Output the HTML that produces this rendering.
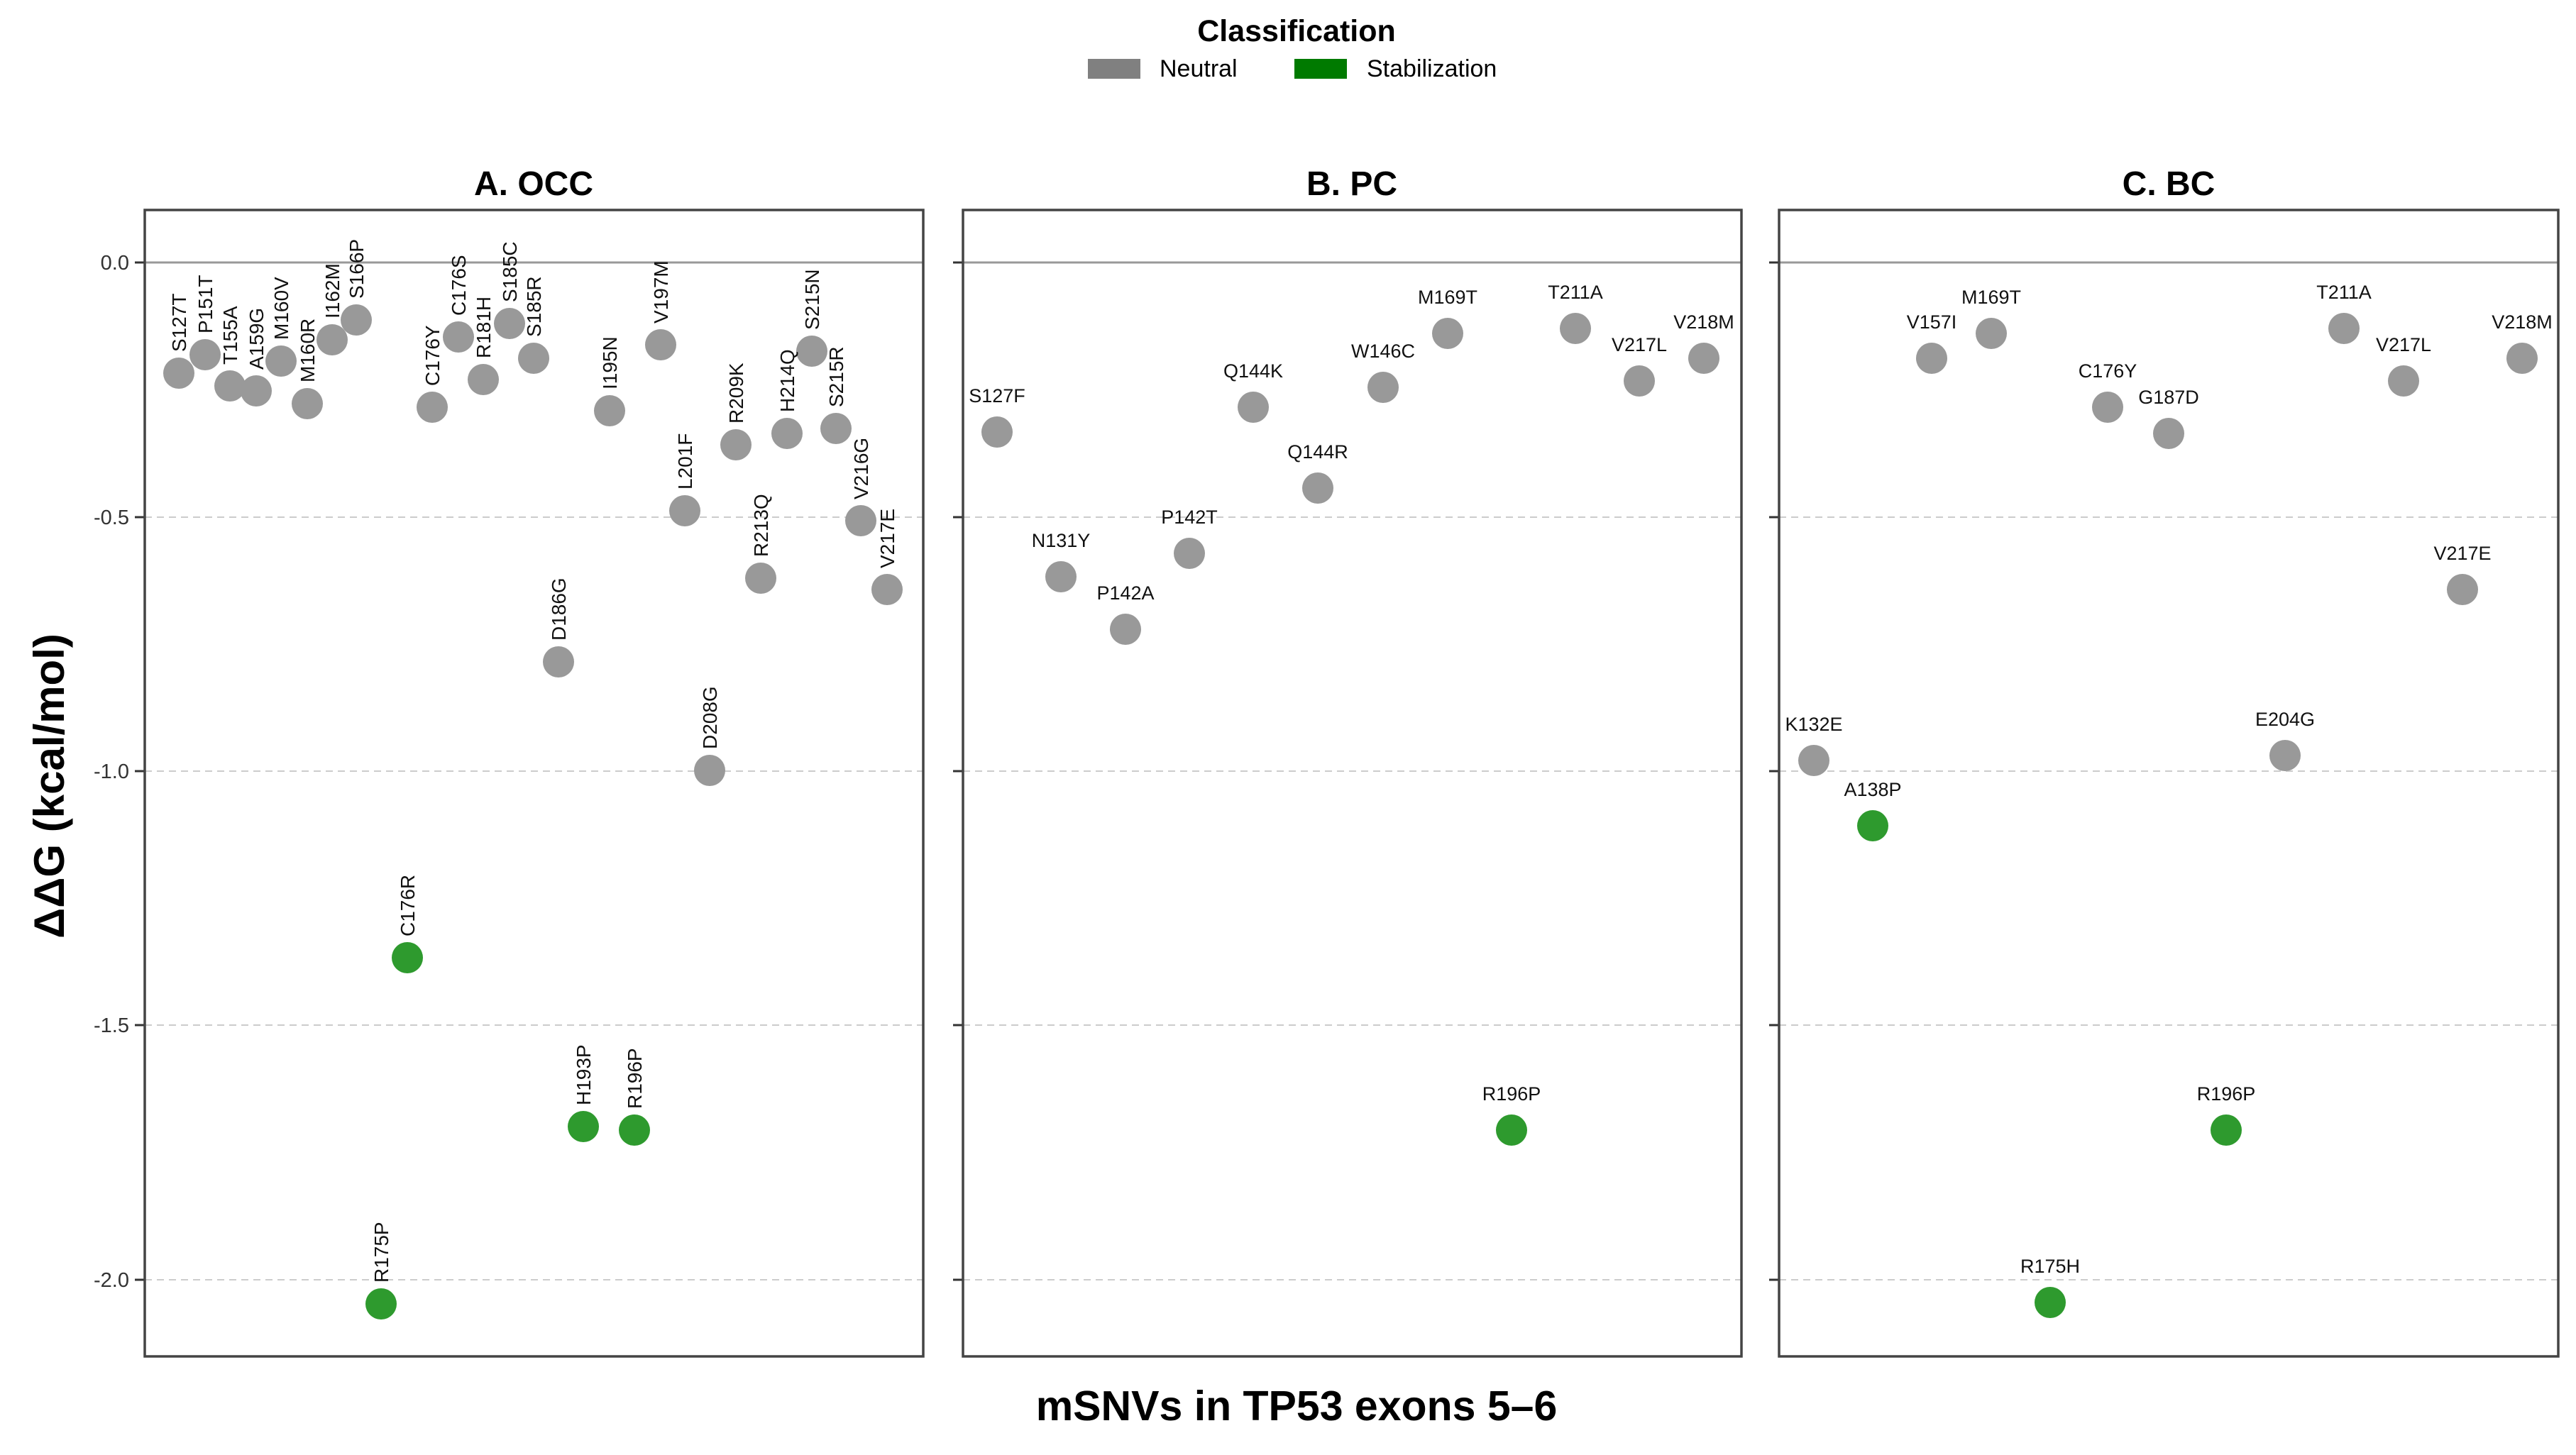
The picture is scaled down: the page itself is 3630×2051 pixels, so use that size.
<!DOCTYPE html>
<html><head><meta charset="utf-8"><style>
html,body{margin:0;padding:0;background:#fff;}
svg{display:block;}
text{font-family:"Liberation Sans",sans-serif;}
</style></head><body>
<svg width="3630" height="2051" viewBox="0 0 3630 2051" xmlns="http://www.w3.org/2000/svg">
<rect width="3630" height="2051" fill="#fff"/>
<!-- Legend -->
<text x="1827" y="58" font-size="43" font-weight="bold" text-anchor="middle">Classification</text>
<rect x="1533" y="83" width="74" height="28" fill="#808080"/>
<text x="1634" y="108" font-size="34">Neutral</text>
<rect x="1824" y="83" width="74" height="28" fill="#007a00"/>
<text x="1926" y="108" font-size="34">Stabilization</text>

<!-- Titles -->
<text x="752" y="275" font-size="48" font-weight="bold" text-anchor="middle">A. OCC</text>
<text x="1905" y="275" font-size="48" font-weight="bold" text-anchor="middle">B. PC</text>
<text x="3056" y="275" font-size="48" font-weight="bold" text-anchor="middle">C. BC</text>

<!-- Y axis title -->
<text transform="translate(90,1108) rotate(-90)" font-size="60" font-weight="bold" text-anchor="middle">ΔΔG (kcal/mol)</text>
<!-- X axis title -->
<text x="1827" y="2002" font-size="59" font-weight="bold" text-anchor="middle">mSNVs in TP53 exons 5–6</text>

<!-- Y tick labels -->
<g font-size="29" fill="#333" text-anchor="end">
<text x="182" y="380">0.0</text>
<text x="182" y="739">-0.5</text>
<text x="182" y="1097">-1.0</text>
<text x="182" y="1455">-1.5</text>
<text x="182" y="1814">-2.0</text>
</g>

<g id="grid">
<g stroke="#ccc" stroke-width="2" stroke-dasharray="10,7">
<line x1="204" y1="729" x2="1301" y2="729"/><line x1="204" y1="1087" x2="1301" y2="1087"/><line x1="204" y1="1445" x2="1301" y2="1445"/><line x1="204" y1="1804" x2="1301" y2="1804"/>
<line x1="1357" y1="729" x2="2454" y2="729"/><line x1="1357" y1="1087" x2="2454" y2="1087"/><line x1="1357" y1="1445" x2="2454" y2="1445"/><line x1="1357" y1="1804" x2="2454" y2="1804"/>
<line x1="2507" y1="729" x2="3605" y2="729"/><line x1="2507" y1="1087" x2="3605" y2="1087"/><line x1="2507" y1="1445" x2="3605" y2="1445"/><line x1="2507" y1="1804" x2="3605" y2="1804"/>
</g>
<g stroke="#999" stroke-width="3">
<line x1="204" y1="370" x2="1301" y2="370"/>
<line x1="1357" y1="370" x2="2454" y2="370"/>
<line x1="2507" y1="370" x2="3605" y2="370"/>
</g>
<g stroke="#333" stroke-width="3">
<line x1="190" y1="370" x2="204" y2="370"/><line x1="190" y1="729" x2="204" y2="729"/><line x1="190" y1="1087" x2="204" y2="1087"/><line x1="190" y1="1445" x2="204" y2="1445"/><line x1="190" y1="1804" x2="204" y2="1804"/>
<line x1="1343" y1="370" x2="1357" y2="370"/><line x1="1343" y1="729" x2="1357" y2="729"/><line x1="1343" y1="1087" x2="1357" y2="1087"/><line x1="1343" y1="1445" x2="1357" y2="1445"/><line x1="1343" y1="1804" x2="1357" y2="1804"/>
<line x1="2493" y1="370" x2="2507" y2="370"/><line x1="2493" y1="729" x2="2507" y2="729"/><line x1="2493" y1="1087" x2="2507" y2="1087"/><line x1="2493" y1="1445" x2="2507" y2="1445"/><line x1="2493" y1="1804" x2="2507" y2="1804"/>
</g>
<g fill="none" stroke="#444" stroke-width="3.5">
<rect x="204" y="296" width="1097" height="1616"/>
<rect x="1357" y="296" width="1097" height="1616"/>
<rect x="2507" y="296" width="1098" height="1616"/>
</g>
</g>

<!-- Panel A points -->
<g fill="#999">
<circle cx="252" cy="526" r="22"/><circle cx="289" cy="500" r="22"/><circle cx="324" cy="544" r="22"/><circle cx="361" cy="551" r="22"/><circle cx="396" cy="509" r="22"/><circle cx="433" cy="569" r="22"/><circle cx="468" cy="479" r="22"/><circle cx="502" cy="451" r="22"/><circle cx="609" cy="574" r="22"/><circle cx="646" cy="475" r="22"/><circle cx="681" cy="535" r="22"/><circle cx="718" cy="456" r="22"/><circle cx="752" cy="505" r="22"/><circle cx="787" cy="933" r="22"/><circle cx="859" cy="579" r="22"/><circle cx="931" cy="486" r="22"/><circle cx="965" cy="720" r="22"/><circle cx="1000" cy="1086" r="22"/><circle cx="1037" cy="627" r="22"/><circle cx="1072" cy="815" r="22"/><circle cx="1109" cy="611" r="22"/><circle cx="1144" cy="495" r="22"/><circle cx="1178" cy="604" r="22"/><circle cx="1213" cy="734" r="22"/><circle cx="1250" cy="831" r="22"/>
</g>
<g fill="#2e9a2e">
<circle cx="574" cy="1350" r="22"/><circle cx="537" cy="1838" r="22"/><circle cx="822" cy="1588" r="22"/><circle cx="894" cy="1593" r="22"/>
</g>
<g font-size="28" fill="#111">
<text transform="translate(262,496) rotate(-90)">S127T</text>
<text transform="translate(299,470) rotate(-90)">P151T</text>
<text transform="translate(334,514) rotate(-90)">T155A</text>
<text transform="translate(371,521) rotate(-90)">A159G</text>
<text transform="translate(406,479) rotate(-90)">M160V</text>
<text transform="translate(443,539) rotate(-90)">M160R</text>
<text transform="translate(478,449) rotate(-90)">I162M</text>
<text transform="translate(512,421) rotate(-90)">S166P</text>
<text transform="translate(619,544) rotate(-90)">C176Y</text>
<text transform="translate(656,445) rotate(-90)">C176S</text>
<text transform="translate(691,505) rotate(-90)">R181H</text>
<text transform="translate(728,426) rotate(-90)">S185C</text>
<text transform="translate(762,475) rotate(-90)">S185R</text>
<text transform="translate(797,903) rotate(-90)">D186G</text>
<text transform="translate(869,549) rotate(-90)">I195N</text>
<text transform="translate(941,456) rotate(-90)">V197M</text>
<text transform="translate(975,690) rotate(-90)">L201F</text>
<text transform="translate(1010,1056) rotate(-90)">D208G</text>
<text transform="translate(1047,597) rotate(-90)">R209K</text>
<text transform="translate(1082,785) rotate(-90)">R213Q</text>
<text transform="translate(1119,581) rotate(-90)">H214Q</text>
<text transform="translate(1154,465) rotate(-90)">S215N</text>
<text transform="translate(1188,574) rotate(-90)">S215R</text>
<text transform="translate(1223,704) rotate(-90)">V216G</text>
<text transform="translate(1260,801) rotate(-90)">V217E</text>
<text transform="translate(584,1320) rotate(-90)">C176R</text>
<text transform="translate(547,1808) rotate(-90)">R175P</text>
<text transform="translate(832,1558) rotate(-90)">H193P</text>
<text transform="translate(904,1563) rotate(-90)">R196P</text>
</g>

<!-- Panel B -->
<g fill="#999">
<circle cx="1405" cy="609" r="22"/><circle cx="1495" cy="813" r="22"/><circle cx="1586" cy="887" r="22"/><circle cx="1676" cy="780" r="22"/><circle cx="1766" cy="574" r="22"/><circle cx="1857" cy="688" r="22"/><circle cx="1949" cy="546" r="22"/><circle cx="2040" cy="470" r="22"/><circle cx="2220" cy="463" r="22"/><circle cx="2310" cy="537" r="22"/><circle cx="2401" cy="505" r="22"/>
</g>
<circle cx="2130" cy="1593" r="22" fill="#2e9a2e"/>
<g font-size="27" fill="#111" text-anchor="middle">
<text x="1405" y="567">S127F</text>
<text x="1495" y="771">N131Y</text>
<text x="1586" y="845">P142A</text>
<text x="1676" y="738">P142T</text>
<text x="1766" y="532">Q144K</text>
<text x="1857" y="646">Q144R</text>
<text x="1949" y="504">W146C</text>
<text x="2040" y="428">M169T</text>
<text x="2220" y="421">T211A</text>
<text x="2310" y="495">V217L</text>
<text x="2401" y="463">V218M</text>
<text x="2130" y="1551">R196P</text>
</g>

<!-- Panel C -->
<g fill="#999">
<circle cx="2556" cy="1072" r="22"/><circle cx="2722" cy="505" r="22"/><circle cx="2806" cy="470" r="22"/><circle cx="2970" cy="574" r="22"/><circle cx="3056" cy="611" r="22"/><circle cx="3220" cy="1065" r="22"/><circle cx="3303" cy="463" r="22"/><circle cx="3387" cy="537" r="22"/><circle cx="3470" cy="831" r="22"/><circle cx="3554" cy="505" r="22"/>
</g>
<g fill="#2e9a2e">
<circle cx="2639" cy="1164" r="22"/><circle cx="2889" cy="1836" r="22"/><circle cx="3137" cy="1593" r="22"/>
</g>
<g font-size="27" fill="#111" text-anchor="middle">
<text x="2556" y="1030">K132E</text>
<text x="2722" y="463">V157I</text>
<text x="2806" y="428">M169T</text>
<text x="2970" y="532">C176Y</text>
<text x="3056" y="569">G187D</text>
<text x="3220" y="1023">E204G</text>
<text x="3303" y="421">T211A</text>
<text x="3387" y="495">V217L</text>
<text x="3470" y="789">V217E</text>
<text x="3554" y="463">V218M</text>
<text x="2639" y="1122">A138P</text>
<text x="2889" y="1794">R175H</text>
<text x="3137" y="1551">R196P</text>
</g>
</svg>
</body></html>
